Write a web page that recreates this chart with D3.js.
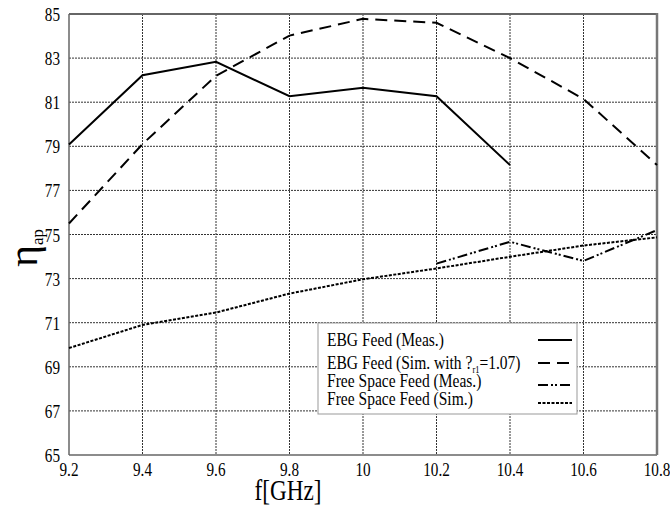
<!DOCTYPE html>
<html>
<head>
<meta charset="utf-8">
<script src="https://cdn.jsdelivr.net/npm/d3@7"></script>
<style>
  html, body { margin: 0; padding: 0; background: #fff; }
  svg { display: block; }
  text { font-family: "Liberation Serif", "DejaVu Serif", serif; fill: #000; }
</style>
</head>
<body>
<svg id="chart" width="670" height="508" font-family="Liberation Serif, serif"></svg>
<script>
// ---- data ----
const freq = [9.2, 9.4, 9.6, 9.8, 10.0, 10.2, 10.4, 10.6, 10.8];
const ebgMeas = [79.08, 82.22, 82.83, 81.27, 81.66, 81.27, 78.15];           // 9.2 .. 10.4
const ebgSim = [75.5, 79.1, 82.2, 84.02, 84.78, 84.6, 83.0, 81.15, 78.15];   // 9.2 .. 10.8
const fsMeasFreq = [10.2, 10.4, 10.6, 10.8];
const fsMeas = [73.68, 74.67, 73.8, 75.2];
const fsSim = [69.85, 70.9, 71.46, 72.32, 72.97, 73.46, 73.99, 74.5, 74.87];
const yTicks = [65, 67, 69, 71, 73, 75, 77, 79, 81, 83, 85];
const xTicks = [9.2, 9.4, 9.6, 9.8, 10.0, 10.2, 10.4, 10.6, 10.8];
const xTickLabels = ["9.2", "9.4", "9.6", "9.8", "10", "10.2", "10.4", "10.6", "10.8"];
const legendLabels = ["EBG Feed (Meas.)", "EBG Feed (Sim. with ?", "Free Space Feed (Meas.)", "Free Space Feed (Sim.)"];

// ---- layout ----
const FONT = "Liberation Serif, serif";
const svg = d3.select("#chart");
const L = 69, R = 657, T = 14, B = 455;
const x = d3.scaleLinear().domain([9.2, 10.8]).range([L, R]);
const y = d3.scaleLinear().domain([65, 85]).range([B, T]);

// grid
const grid = svg.append("g");
grid.selectAll("line.h").data(yTicks.slice(1, -1)).join("line")
  .attr("x1", L).attr("x2", R).attr("y1", d => y(d)).attr("y2", d => y(d))
  .attr("stroke", "#333").attr("stroke-width", 1).attr("stroke-dasharray", "2,1");
grid.selectAll("line.v").data(xTicks.slice(1, -1)).join("line")
  .attr("y1", T).attr("y2", B).attr("x1", d => x(d)).attr("x2", d => x(d))
  .attr("stroke", "#333").attr("stroke-width", 1).attr("stroke-dasharray", "2,1");

// frame
svg.append("line").attr("x1", L).attr("x2", R).attr("y1", T).attr("y2", T).attr("stroke", "#666").attr("stroke-width", 2);
svg.append("line").attr("x1", L).attr("x2", R).attr("y1", B).attr("y2", B).attr("stroke", "#666").attr("stroke-width", 1.5);
svg.append("line").attr("x1", L).attr("x2", L).attr("y1", T).attr("y2", B).attr("stroke", "#666").attr("stroke-width", 1.5);
svg.append("line").attr("x1", R).attr("x2", R).attr("y1", T - 1).attr("y2", B).attr("stroke", "#777").attr("stroke-width", 2.5);

// tick labels
svg.append("g").selectAll("text").data(yTicks).join("text")
  .attr("transform", d => `translate(60,${y(d) + 7}) scale(0.8,1)`)
  .attr("font-family", FONT)
  .attr("text-anchor", "end").attr("font-size", 19).text(d => d);
svg.append("g").selectAll("text").data(xTicks).join("text")
  .attr("transform", (d, i) => `translate(${x(d)},476) scale(0.8,1)`)
  .attr("font-family", FONT)
  .attr("text-anchor", "middle").attr("font-size", 19).text((d, i) => xTickLabels[i]);

// axis titles
svg.append("text").attr("transform", "translate(288,500) scale(0.8,1)")
  .attr("font-family", FONT)
  .attr("text-anchor", "middle").attr("font-size", 29).text("f[GHz]");
const yl = svg.append("text").attr("transform", "translate(37,248) rotate(-90)")
  .attr("font-family", FONT)
  .attr("text-anchor", "middle").attr("font-size", 42);
yl.append("tspan").text("η");
yl.append("tspan").attr("font-size", 17).attr("dy", 6).text("ap");

// series
const line = d3.line().x(d => x(d[0])).y(d => y(d[1]));
const styles = [
  { dash: null, w: 2 },
  { dash: "12,7", w: 2 },
  { dash: "10,3,2,2,2,3", w: 2 },
  { dash: "3,1.5", w: 2 }
];
const series = [
  ebgMeas.map((v, i) => [freq[i], v]),
  ebgSim.map((v, i) => [freq[i], v]),
  fsMeas.map((v, i) => [fsMeasFreq[i], v]),
  fsSim.map((v, i) => [freq[i], v])
];
series.forEach((s, i) => {
  svg.append("path").datum(s).attr("d", line).attr("fill", "none")
    .attr("stroke", "#000").attr("stroke-width", styles[i].w)
    .attr("stroke-dasharray", styles[i].dash);
});

// legend
const lg = svg.append("g");
lg.append("rect").attr("x", 318).attr("y", 323).attr("width", 259).attr("height", 91)
  .attr("fill", "#fff").attr("stroke", "#999").attr("stroke-width", 1);
const rowBase = [346, 369, 387, 405];
const sampleY = [340, 363, 385, 403];
legendLabels.forEach((lab, i) => {
  const t = lg.append("text").attr("transform", `translate(327,${rowBase[i]}) scale(0.84,1)`)
    .attr("font-family", FONT)
    .attr("font-size", 18.5);
  t.append("tspan").text(lab);
  if (i === 1) {
    t.append("tspan").attr("font-size", 10).attr("dy", 4).text("r1");
    t.append("tspan").attr("dy", -4).text("=1.07)");
  }
  lg.append("line").attr("x1", 538).attr("x2", 572).attr("y1", sampleY[i]).attr("y2", sampleY[i])
    .attr("stroke", "#000").attr("stroke-width", 2).attr("stroke-dasharray", styles[i].dash);
});
</script>
</body>
</html>
